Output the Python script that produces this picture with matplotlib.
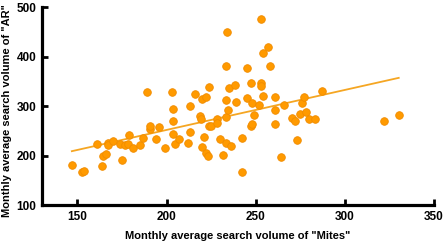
import matplotlib
matplotlib.use("Agg")
import matplotlib.pyplot as plt
import numpy as np

# monthly average search volume, one point per month
mites = [146.9, 152.6, 153.8, 160.9, 163.7, 164.4, 166.1, 166.9, 167.2, 170.0,
         173.9, 174.9, 176.7, 178.2, 179.0, 181.1, 184.9, 187.0, 190.7, 191.0,
         188.9, 194.1, 195.9, 199.0, 202.9, 203.8, 203.8, 203.8, 204.8, 207.0,
         212.2, 213.2, 213.2, 216.0, 219.9, 222.1, 218.8, 219.2, 219.7, 221.0,
         222.1, 223.0, 224.0, 224.8, 224.0, 228.1, 228.1, 230.0, 231.7, 233.2,
         233.2, 233.2, 233.2, 234.1, 234.2, 235.1, 236.0, 238.2, 239.1, 242.1,
         242.1, 245.1, 245.1, 247.1, 247.2, 248.2, 248.1, 249.2, 252.1, 253.1,
         253.1, 253.1, 254.1, 254.2, 257.1, 258.1, 261.1, 261.1, 261.1, 264.0,
         266.0, 270.1, 272.0, 273.0, 275.0, 276.1, 277.1, 278.2, 280.1, 283.1,
         287.0, 322.2, 330.2]
ar = [180.6, 167.5, 168.5, 223.0, 180.2, 198.8, 203.2, 226.6, 221.4, 229.0,
      223.0, 191.3, 221.0, 224.0, 242.5, 216.5, 221.6, 235.7, 254.8, 259.7,
      328.2, 233.5, 257.9, 216.5, 329.4, 293.9, 269.3, 243.7, 223.4, 233.5,
      226.6, 248.6, 301.2, 324.4, 314.7, 319.3, 280.4, 273.8, 217.5, 238.5,
      204.8, 200.4, 259.3, 260.3, 338.9, 273.8, 265.3, 234.1, 200.8, 380.6,
      311.7, 277.4, 226.6, 449.8, 291.5, 335.9, 220.0, 342.9, 308.7, 235.7,
      167.9, 377.8, 317.3, 347.0, 260.7, 263.9, 306.2, 281.8, 303.4, 476.0,
      346.4, 341.0, 407.4, 320.7, 420.1, 380.6, 318.3, 292.5, 263.7, 197.4,
      301.6, 276.8, 269.3, 232.5, 284.5, 307.2, 318.7, 287.9, 274.0, 273.4,
      330.4, 270.4, 282.4]

x_ticks = [150, 200, 250, 300, 350]
y_ticks = [100, 200, 300, 400, 500]

plt.rcParams['font.family'] = ['Liberation Sans', 'DejaVu Sans']
plt.rcParams['font.weight'] = 'bold'

fig = plt.figure(figsize=(4.47, 2.44), dpi=100)
ax = fig.add_axes([0.0933, 0.158, 0.8777, 0.813])

ax.scatter(mites, ar, s=30, color='#FF9A00', edgecolors='#F08C00',
           linewidths=0.6, zorder=3)

# linear fit drawn across the x range of the data
coef = np.polyfit(mites, ar, 1)
xs = np.array([min(mites), max(mites)])
ax.plot(xs, np.polyval(coef, xs), color='#F5A623', lw=1.3, zorder=2)

ax.set_xlim(130, 350)
ax.set_ylim(100, 500)
ax.set_xticks(x_ticks)
ax.set_yticks(y_ticks)
for s in ['top', 'right']:
    ax.spines[s].set_visible(False)
for s in ['left', 'bottom']:
    ax.spines[s].set_linewidth(2.3)
ax.tick_params(direction='in', length=4, width=2, labelsize=8.5, pad=4)
for lab in ax.get_xticklabels() + ax.get_yticklabels():
    lab.set_fontweight('bold')

ax.set_xlabel('Monthly average search volume of "Mites"', fontsize=8,
              fontweight='bold', labelpad=6)
ax.set_ylabel('Monthly average search volume of "AR"', fontsize=8,
              fontweight='bold', labelpad=5)
ax.yaxis.set_label_coords(-0.075, 0.48)

fig.savefig('out.png', dpi=100)
